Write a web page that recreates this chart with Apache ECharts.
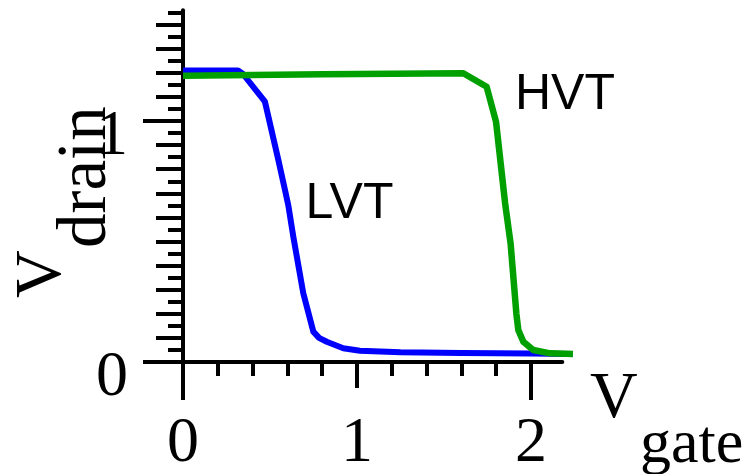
<!DOCTYPE html>
<html>
<head>
<meta charset="utf-8">
<style>
html, body { margin: 0; padding: 0; background: #fff; }
#chart { width: 747px; height: 474px; }
</style>
<script src="https://cdn.jsdelivr.net/npm/echarts@6/dist/echarts.min.js"></script>
</head>
<body>
<div id="chart"></div>
<script>
// LVT transfer curve (blue)
var lvtGate  = [0, 0.316, 0.345, 0.471, 0.548, 0.586, 0.605, 0.634, 0.691, 0.749, 0.782, 0.826, 0.921, 1.017, 1.25, 1.6, 2.0, 2.24];
var lvtDrain = [1.210, 1.210, 1.195, 1.080, 0.838, 0.714, 0.651, 0.520, 0.286, 0.126, 0.100, 0.084, 0.057, 0.047, 0.040, 0.037, 0.035, 0.033];

// HVT transfer curve (green)
var hvtGate  = [0, 0.8, 1.611, 1.745, 1.799, 1.851, 1.883, 1.916, 1.927, 1.956, 2.013, 2.109, 2.241];
var hvtDrain = [1.188, 1.194, 1.198, 1.142, 0.997, 0.660, 0.490, 0.200, 0.133, 0.084, 0.050, 0.036, 0.033];

var gateTickLabels  = ['0', '1', '2'];
var drainTickLabels = ['0', '1'];

// pixel frame of the plot
var ORIGIN_X = 183, ORIGIN_Y = 362;
var PX_GATE = 174, PX_DRAIN = 241;

function zip(xs, ys) {
    var res = [];
    for (var i = 0; i < xs.length; i++) res.push([xs[i], ys[i]]);
    return res;
}

function grid(xMax, yMax) {
    return {
        left: ORIGIN_X,
        top: ORIGIN_Y - yMax * PX_DRAIN,
        width: xMax * PX_GATE,
        height: yMax * PX_DRAIN,
        containLabel: false,
        outerBoundsMode: 'none'
    };
}

function tick(len) {
    return { show: true, inside: false, length: len, lineStyle: { color: '#000', width: 4 } };
}

// axis with ticks only (no line, no labels)
function tickAxis(gridIndex, max, interval, len) {
    return {
        type: 'value', gridIndex: gridIndex, min: 0, max: max, interval: interval,
        axisLine: { show: false },
        axisTick: tick(len),
        axisLabel: { show: false },
        splitLine: { show: false }
    };
}

var labelFont = { color: '#000', fontFamily: 'Liberation Serif', fontSize: 64 };

var myChart = echarts.init(document.getElementById('chart'));

var option = {
    animation: false,
    backgroundColor: '#fff',
    grid: [
        grid(2.25, 1.46), // 0: curves
        grid(2, 1.45),    // 1: short ticks
        grid(1, 1.4),     // 2: medium ticks
        grid(2, 1),       // 3: long ticks
        grid(2, 1),       // 4: gate labels
        grid(2.18, 1.46)  // 5: axis lines
    ],
    xAxis: [
        { type: 'value', gridIndex: 0, min: 0, max: 2.25, show: false },
        tickAxis(1, 2, 0.2, 14),
        tickAxis(2, 1, 1, 26),
        tickAxis(3, 2, 2, 38),
        {
            type: 'value', gridIndex: 4, min: 0, max: 2, interval: 1,
            axisLine: { show: false }, axisTick: { show: false }, splitLine: { show: false },
            axisLabel: Object.assign({
                show: true, margin: 50, showMinLabel: true, showMaxLabel: true,
                formatter: function (v) { return gateTickLabels[Math.round(v)]; }
            }, labelFont)
        },
        {
            type: 'value', gridIndex: 5, min: 0, max: 2.18,
            axisLine: { show: true, lineStyle: { color: '#000', width: 4 } },
            axisTick: { show: false }, axisLabel: { show: false }, splitLine: { show: false }
        }
    ],
    yAxis: [
        { type: 'value', gridIndex: 0, min: 0, max: 1.46, show: false },
        tickAxis(1, 1.45, 0.05, 15),
        tickAxis(2, 1.4, 0.1, 27),
        {
            type: 'value', gridIndex: 3, min: 0, max: 1, interval: 1,
            axisLine: { show: false }, axisTick: tick(40), splitLine: { show: false },
            axisLabel: Object.assign({
                show: true, margin: 55, verticalAlign: 'top', lineHeight: 32,
                showMinLabel: true, showMaxLabel: true,
                formatter: function (v) { return drainTickLabels[Math.round(v)]; }
            }, labelFont)
        },
        { type: 'value', gridIndex: 4, min: 0, max: 1, show: false },
        {
            type: 'value', gridIndex: 5, min: 0, max: 1.46,
            axisLine: { show: true, lineStyle: { color: '#000', width: 4 } },
            axisTick: { show: false }, axisLabel: { show: false }, splitLine: { show: false }
        }
    ],
    series: [
        {
            name: 'LVT', type: 'line', xAxisIndex: 0, yAxisIndex: 0,
            data: zip(lvtGate, lvtDrain),
            symbol: 'none', clip: false, z: 5,
            lineStyle: { color: '#0000ff', width: 6, join: 'round' }
        },
        {
            name: 'HVT', type: 'line', xAxisIndex: 0, yAxisIndex: 0,
            data: zip(hvtGate, hvtDrain),
            symbol: 'none', clip: false, z: 6,
            lineStyle: { color: '#00a000', width: 6.5, join: 'round' }
        }
    ],
    graphic: [
        {
            type: 'text', x: 305.5, y: 204.4, z: 10,
            style: { text: 'LVT', fill: '#000', fontFamily: 'Liberation Sans', fontSize: 50, align: 'left', verticalAlign: 'middle' }
        },
        {
            type: 'text', x: 515, y: 95.7, z: 10,
            style: { text: 'HVT', fill: '#000', fontFamily: 'Liberation Sans', fontSize: 50, align: 'left', verticalAlign: 'middle' }
        },
        // x axis title: V_gate
        {
            type: 'text', x: 590, y: 399.4, z: 10,
            style: { text: 'V', fill: '#000', fontFamily: 'Liberation Serif', fontSize: 66, align: 'left', verticalAlign: 'middle' }
        },
        {
            type: 'text', x: 640, y: 445.8, z: 10,
            style: { text: 'gate', fill: '#000', fontFamily: 'Liberation Serif', fontSize: 62, align: 'left', verticalAlign: 'middle' }
        },
        // y axis title: V_drain, rotated
        {
            type: 'group', x: 2, y: 298, rotation: Math.PI / 2, z: 10,
            children: [
                {
                    type: 'text', x: 0, y: 40.7,
                    style: { text: 'V', fill: '#000', fontFamily: 'Liberation Serif', fontSize: 66, align: 'left', verticalAlign: 'middle' }
                },
                {
                    type: 'text', x: 50, y: 85,
                    style: { text: 'drain', fill: '#000', fontFamily: 'Liberation Serif', fontSize: 69, align: 'left', verticalAlign: 'middle' }
                }
            ]
        }
    ]
};

myChart.setOption(option);
</script>
</body>
</html>
